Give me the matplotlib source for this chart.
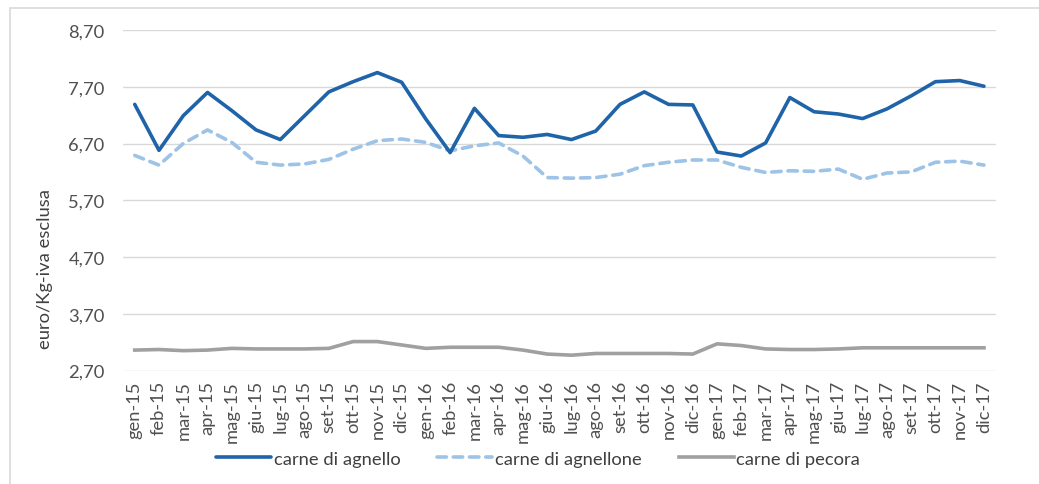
import matplotlib
matplotlib.use("Agg")
import matplotlib.pyplot as plt
from matplotlib.patches import Rectangle
from matplotlib.ticker import FuncFormatter

months = ["gen-15", "feb-15", "mar-15", "apr-15", "mag-15", "giu-15", "lug-15", "ago-15",
          "set-15", "ott-15", "nov-15", "dic-15", "gen-16", "feb-16", "mar-16", "apr-16",
          "mag-16", "giu-16", "lug-16", "ago-16", "set-16", "ott-16", "nov-16", "dic-16",
          "gen-17", "feb-17", "mar-17", "apr-17", "mag-17", "giu-17", "lug-17", "ago-17",
          "set-17", "ott-17", "nov-17", "dic-17"]

agnello = [7.39, 6.58, 7.19, 7.60, 7.28, 6.94, 6.77, 7.19, 7.61, 7.79, 7.95, 7.78,
           7.13, 6.54, 7.32, 6.84, 6.81, 6.86, 6.77, 6.92, 7.39, 7.61, 7.39, 7.38,
           6.55, 6.48, 6.71, 7.51, 7.26, 7.22, 7.14, 7.31, 7.54, 7.79, 7.81, 7.71]

agnellone = [6.49, 6.32, 6.70, 6.94, 6.72, 6.37, 6.32, 6.34, 6.42, 6.60, 6.75, 6.78,
             6.72, 6.57, 6.66, 6.71, 6.48, 6.10, 6.09, 6.10, 6.16, 6.31, 6.37, 6.41,
             6.41, 6.28, 6.19, 6.22, 6.21, 6.25, 6.07, 6.18, 6.20, 6.37, 6.39, 6.32]

pecora = [3.06, 3.07, 3.05, 3.06, 3.09, 3.08, 3.08, 3.08, 3.09, 3.21, 3.21, 3.15,
          3.09, 3.11, 3.11, 3.11, 3.06, 2.99, 2.97, 3.00, 3.00, 3.00, 3.00, 2.99,
          3.17, 3.14, 3.08, 3.07, 3.07, 3.08, 3.10, 3.10, 3.10, 3.10, 3.10, 3.10]

series_names = ["carne di agnello", "carne di agnellone", "carne di pecora"]
y_ticks = [2.70, 3.70, 4.70, 5.70, 6.70, 7.70, 8.70]
y_label = "euro/Kg-iva esclusa"

plt.rcParams['font.family'] = ['Lato', 'DejaVu Sans']
FS = 13.2

fig = plt.figure(figsize=(10.39, 4.85), dpi=100)
ax = fig.add_axes([0.118, 0.234, 0.8407, 0.702])

x = list(range(len(months)))
ax.plot(x, agnello, color="#1f63a8", lw=2.6, solid_joinstyle="round",
        solid_capstyle="round", label=series_names[0], zorder=3)
ax.plot(x, agnellone, color="#9dc3e6", lw=2.6, linestyle=(0, (2.6, 1.9)),
        dash_capstyle="round", label=series_names[1], zorder=2)
ax.plot(x, pecora, color="#a0a0a0", lw=2.6, solid_joinstyle="round",
        label=series_names[2], zorder=2)

ax.set_xlim(-0.5, len(months) - 0.5)
ax.set_ylim(y_ticks[0], y_ticks[-1])
ax.set_yticks(y_ticks)
ax.yaxis.set_major_formatter(FuncFormatter(lambda v, p: f"{v:.2f}".replace(".", ",")))
ax.set_xticks(x)
ax.set_xticklabels(months, rotation=90)
ax.grid(axis="y", color="#d9d9d9", lw=1.0)
ax.set_axisbelow(True)
for s in ax.spines.values():
    s.set_visible(False)
ax.tick_params(axis="both", length=0, colors="#505050", labelsize=FS)
ax.tick_params(axis="y", pad=13)
ax.tick_params(axis="x", pad=7)

fig.text(45 / 1039, 1 - 269 / 485, y_label, rotation=90, ha="center", va="center",
         fontsize=FS, color="#404040")

leg = fig.legend(loc="center", bbox_to_anchor=(0.518, 0.052), ncol=3, frameon=False,
                 fontsize=FS, handlelength=3.0, handletextpad=0.15, columnspacing=2.0)
for t in leg.get_texts():
    t.set_color("#404040")

fig.patches.append(Rectangle((10 / 1039, -0.1), 1.2, 1 - 9 / 485 + 0.1,
                             transform=fig.transFigure, fill=False,
                             edgecolor="#d9d9d9", lw=1.2, zorder=0))

fig.savefig("out.png", dpi=100)
